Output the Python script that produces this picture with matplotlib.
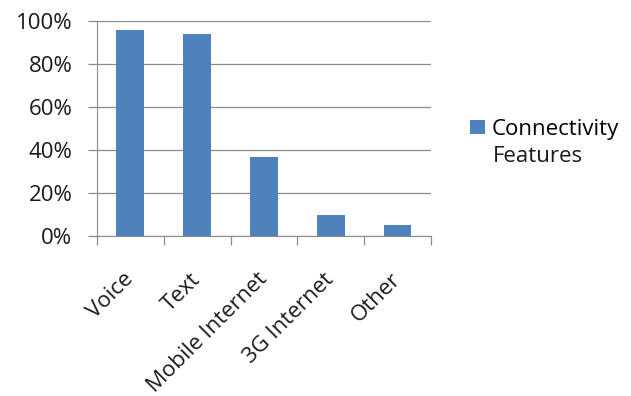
import matplotlib
matplotlib.use("Agg")
from matplotlib import pyplot as plt
from matplotlib.ticker import PercentFormatter

categories = ["Voice", "Text", "Mobile Internet", "3G Internet", "Other"]
shares = [95.5, 93.8, 36.8, 9.6, 5.0]
yticks = [0, 20, 40, 60, 80, 100]

plt.rcParams['font.family'] = ['Open Sans', 'DejaVu Sans']
grey = '#8c8c8c'
blue = '#4f81bd'
txt = '#1a1a1a'
fs = 16

fig = plt.figure(figsize=(6.31, 3.96), dpi=100)
ax = fig.add_axes([0.1533, 0.404, 0.53, 0.544])

x = range(len(categories))
bars = ax.bar(x, shares, width=0.41, color=blue, zorder=3)

ax.set_xlim(-0.5, len(categories) - 0.5)
ax.set_ylim(0, 100)
ax.set_yticks(yticks)
ax.yaxis.set_major_formatter(PercentFormatter(decimals=0))
ax.grid(axis='y', color=grey, linewidth=0.9, zorder=0)

for s in ['top', 'right']:
    ax.spines[s].set_visible(False)
ax.spines['left'].set_color(grey)
ax.spines['bottom'].set_color(grey)

# ticks at category boundaries on the x axis, labels at centres
ax.set_xticks([i - 0.5 for i in range(len(categories) + 1)])
ax.set_xticklabels([])
ax.set_xticks(list(x), minor=True)
ax.set_xticklabels(categories, minor=True, rotation=45, ha='right', va='center',
                   rotation_mode='anchor', fontsize=fs, color=txt)
ax.tick_params(axis='x', which='major', length=6.5, color=grey, width=0.9)
ax.tick_params(axis='x', which='minor', length=0, pad=29)
ax.tick_params(axis='y', length=6.5, color=grey, width=0.9, labelsize=fs,
               labelcolor=txt, pad=11)

fig.legend(handles=[bars], labels=["Connectivity"], loc='upper left',
           bbox_to_anchor=(0.745, 0.70), frameon=False, fontsize=fs,
           handlelength=0.65, handleheight=0.65, handletextpad=0.3,
           borderaxespad=0, borderpad=0)
fig.text(0.781, 0.606, "Features", fontsize=fs, color=txt, va='center')

fig.savefig("out.png", dpi=100)
